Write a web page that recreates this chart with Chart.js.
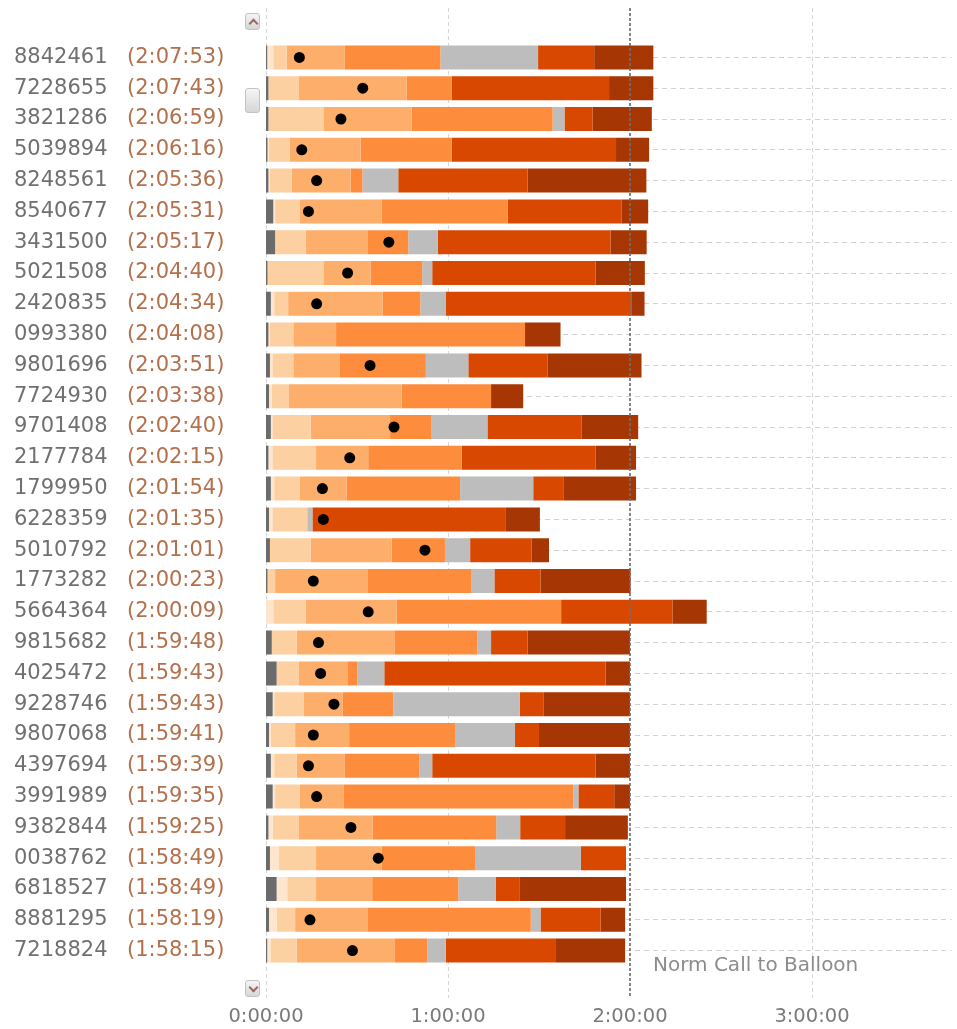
<!DOCTYPE html>
<html>
<head>
<meta charset="utf-8">
<style>
  html, body { margin: 0; padding: 0; background: #fff; }
  #wrap { position: relative; width: 957px; height: 1029px; }
  canvas { position: absolute; left: 0; top: 0; }
  .sb { position: absolute; left: 245px; width: 15px; border: 1px solid #c2c2c2; border-radius: 3px;
        background: linear-gradient(#f5f5f5, #d6d6d6); box-sizing: border-box; }
  .sb i { position: absolute; left: 4px; width: 5px; height: 5px; border-left: 2px solid #9a6a5c; border-top: 2px solid #9a6a5c; }
  #up { top: 13px; height: 17px; }
  #up i { top: 6px; transform: rotate(45deg); }
  #thumb { top: 88px; height: 25px; }
  #down { top: 980px; height: 17px; }
  #down i { top: 3px; transform: rotate(225deg); }
</style>
<script src="https://cdn.jsdelivr.net/npm/chart.js@4"></script>
</head>
<body>
<div id="wrap">
  <canvas id="chart" width="957" height="1029"></canvas>
  <div class="sb" id="up"><i></i></div>
  <div class="sb" id="thumb"></div>
  <div class="sb" id="down"><i></i></div>
</div>
<script>
// ids and total times, top to bottom
const ids = ['8842461','7228655','3821286','5039894','8248561','8540677','3431500','5021508','2420835','0993380',
  '9801696','7724930','9701408','2177784','1799950','6228359','5010792','1773282','5664364','9815682',
  '4025472','9228746','9807068','4397694','3991989','9382844','0038762','6818527','8881295','7218824'];
const times = ['2:07:53','2:07:43','2:06:59','2:06:16','2:05:36','2:05:31','2:05:17','2:04:40','2:04:34','2:04:08',
  '2:03:51','2:03:38','2:02:40','2:02:15','2:01:54','2:01:35','2:01:01','2:00:23','2:00:09','1:59:48',
  '1:59:43','1:59:43','1:59:41','1:59:39','1:59:35','1:59:25','1:58:49','1:58:49','1:58:19','1:58:15'];

// segment durations in minutes, one array per phase
const darkGray = [0.4,0.8,0.8,0.5,0.8,2.4,3.0,0.5,1.6,0.8,1.3,1.0,1.6,0.8,1.6,1.0,1.3,0.5,0,1.9,3.5,2.2,1.0,1.6,2.2,0.8,1.3,3.5,1.0,0.4];
const lightest = [2.0,0,0,0.5,0.5,0.6,0,0,1.1,0.5,0.8,0.9,0.5,1.3,1.1,1.1,0,0,2.4,0,0,0.5,0.5,1.1,0.8,1.4,3.0,3.5,2.5,1.1];
const pale     = [4.4,9.9,18.1,6.9,7.2,8.2,10.1,18.4,4.6,7.7,6.9,5.5,12.6,14.4,8.5,11.5,13.4,2.5,10.7,8.2,7.2,9.8,8.1,7.4,8.2,8.5,12.2,9.5,6.1,8.6];
const light    = [19.2,35.7,29.1,23.3,19.4,26.9,20.3,15.6,31.1,14.1,15.4,37.3,26.2,17.2,15.4,0,26.7,30.4,30.0,32.2,16.1,12.7,17.8,15.9,14.3,24.4,21.6,18.5,23.8,32.2];
const orange   = [31.5,14.8,46.5,30.0,3.9,41.6,13.5,17.0,12.5,62.3,28.3,29.5,13.5,30.8,37.4,0,17.6,34.4,54.2,27.4,3.3,16.8,34.9,24.5,75.8,40.8,30.8,28.4,53.9,10.9];
const gray     = [32.2,0,3.9,0,11.8,0,9.7,3.3,8.3,0,14.0,0,18.6,0,24.1,1.7,8.3,7.5,0,4.5,8.9,41.7,19.8,4.3,1.7,7.9,34.9,12.3,3.2,6.1];
const red      = [18.5,51.9,9.3,54.2,42.6,37.6,57.0,53.9,61.2,0,26.2,0,31.1,44.2,9.9,63.8,20.3,15.2,36.7,12.0,73.0,7.9,7.9,53.9,11.8,14.8,14.9,8.0,19.8,36.3];
const brown    = [19.5,14.6,19.5,10.9,39.2,8.7,11.9,16.2,4.4,11.7,30.9,10.6,18.6,13.3,24.0,11.2,5.7,29.7,11.3,33.8,8.0,28.4,30.0,11.3,5.2,20.7,0,35.0,8.1,22.8];
// black marker per row (minutes), null = none
const dots = [11.0,31.9,24.7,11.8,16.7,14.0,40.5,26.9,16.7,null,34.3,null,42.2,27.6,18.6,18.9,52.4,15.6,33.7,17.3,
  18.0,22.4,15.6,14.0,16.7,28.0,37.0,null,14.5,28.5];

const xTicks = [0, 60, 120, 180];
const normMinutes = 120;

const FONT = 'DejaVu Sans';

function fmt(min) {
  const h = Math.floor(min / 60);
  return h + ':00:00';
}

const segs = [
  [darkGray, '#6b6b6b'],
  [lightest, '#fee6ce'],
  [pale, '#fdd0a2'],
  [light, '#fdae6b'],
  [orange, '#fd8d3c'],
  [gray, '#bdbdbd'],
  [red, '#d94801'],
  [brown, '#a63603']
];

const datasets = [{
  type: 'line',
  indexAxis: 'y',
  data: dots,
  showLine: false,
  pointRadius: 5.5,
  pointBackgroundColor: '#000',
  pointBorderWidth: 0,
  order: 0,
  stack: 'dots'
}];
segs.forEach(([vals, col]) => {
  datasets.push({
    data: vals,
    backgroundColor: col,
    borderWidth: 0,
    categoryPercentage: 1,
    barPercentage: 0.78,
    order: 1,
    stack: 'bars'
  });
});

// vertical gridlines (light behind bars, norm line on top) and row labels
const overlay = {
  id: 'overlay',
  beforeDatasetsDraw(chart) {
    const c = chart.ctx, xs = chart.scales.x;
    c.save();
    c.strokeStyle = '#d6d6d6';
    c.lineWidth = 1;
    c.setLineDash([4, 3]);
    xTicks.forEach(v => {
      if (v === normMinutes) return;
      const x = Math.round(xs.getPixelForValue(v)) + 0.5;
      c.beginPath(); c.moveTo(x, 8); c.lineTo(x, 998); c.stroke();
    });
    c.restore();
  },
  afterDatasetsDraw(chart) {
    const c = chart.ctx, xs = chart.scales.x;
    c.save();
    c.strokeStyle = 'rgba(110,110,110,0.85)';
    c.lineWidth = 2;
    c.setLineDash([3, 2]);
    const x = Math.round(xs.getPixelForValue(normMinutes));
    c.beginPath(); c.moveTo(x, 8); c.lineTo(x, 998); c.stroke();
    c.setLineDash([]);
    c.fillStyle = '#8c8c8c';
    c.font = '20px "' + FONT + '"';
    c.textBaseline = 'middle';
    c.fillText('Norm Call to Balloon', x + 23, 966);
    c.restore();
  },
  afterDraw(chart) {
    const c = chart.ctx, ys = chart.scales.y;
    c.save();
    c.font = '21px "' + FONT + '"';
    c.textBaseline = 'middle';
    ids.forEach((id, i) => {
      const y = ys.getPixelForValue(i);
      c.fillStyle = '#707070';
      c.fillText(id, 14, y);
      c.fillStyle = '#b3704c';
      c.fillText('(' + times[i] + ')', 127, y);
    });
    c.restore();
  }
};

new Chart(document.getElementById('chart'), {
  type: 'bar',
  data: { labels: ids, datasets: datasets },
  options: {
    indexAxis: 'y',
    responsive: false,
    animation: false,
    layout: { padding: { left: 266, top: 42, right: 0, bottom: 0 } },
    plugins: { legend: { display: false }, tooltip: { enabled: false } },
    scales: {
      x: {
        stacked: true,
        min: 0,
        max: 226,
        afterBuildTicks: s => { s.ticks = xTicks.map(v => ({ value: v })); },
        afterFit: s => { s.height = 63; },
        grid: { display: false },
        border: { display: false },
        ticks: {
          color: '#7a7a7a',
          padding: 31,
          font: { family: FONT, size: 19.5 },
          callback: v => fmt(v)
        }
      },
      y: {
        stacked: true,
        afterFit: s => { s.width = 0; },
        ticks: { display: false },
        grid: { offset: false, color: '#d2d2d2', drawTicks: false },
        border: { display: false, dash: [5, 4] }
      }
    }
  },
  plugins: [overlay]
});
</script>
</body>
</html>
